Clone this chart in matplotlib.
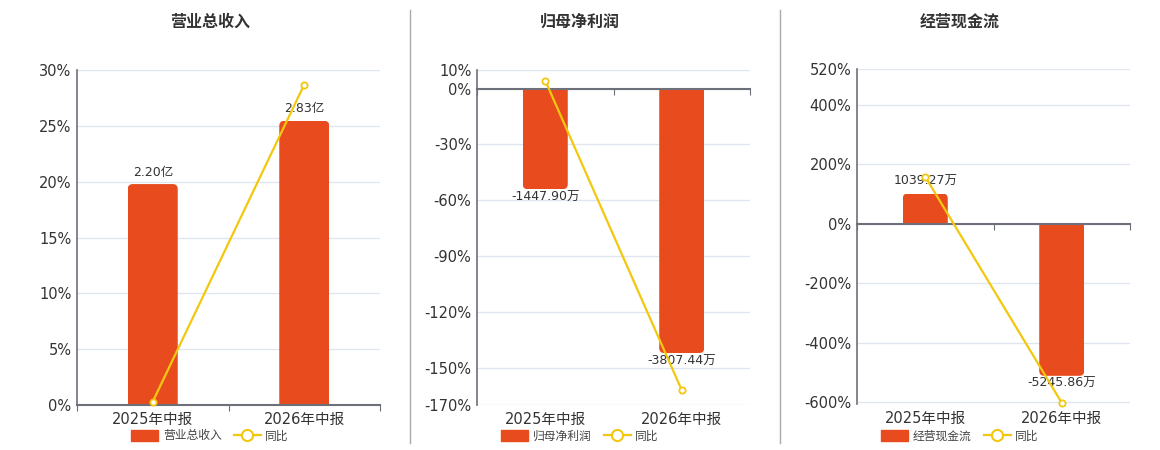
import matplotlib.pyplot as plt
from matplotlib.lines import Line2D
from matplotlib.patches import Patch, FancyBboxPatch

plt.rcParams['font.family'] = ['DejaVu Sans', 'Noto Sans CJK SC']

periods = ["2025年中报", "2026年中报"]

titles = ["营业总收入", "归母净利润", "经营现金流"]
bar_values = [
    [2.20, 2.83],          # 亿
    [-1447.90, -3807.44],  # 万
    [1039.27, -5245.86],   # 万
]
bar_labels = [
    ["2.20亿", "2.83亿"],
    ["-1447.90万", "-3807.44万"],
    ["1039.27万", "-5245.86万"],
]
yoy = [
    [0.3, 28.7],
    [4.3, -162.0],
    [158.0, -602.0],
]

# layout / style
BAR_C = "#E84C1E"
LINE_C = "#F2C80F"
GRID_C = "#E0E6F1"
AXIS_C = "#6E7079"
TXT_C = "#333333"

pct_lims = [(0, 30), (-170, 10), (-606, 520)]
pct_ticks = [
    [0, 5, 10, 15, 20, 25, 30],
    [10, 0, -30, -60, -90, -120, -150, -170],
    [520, 400, 200, 0, -200, -400, -600],
]
# bar units per percent so bars line up with the visible axis
bar_per_pct = [0.1112, 26.8, 10.26]

W, H = 1160, 450
fig = plt.figure(figsize=(W / 100, H / 100), dpi=100)

boxes = [(77, 70, 303, 335), (477, 70, 273, 335), (857, 69, 273, 335)]
centers = [210, 580, 960]

for i in range(3):
    x0, y0, w, h = boxes[i]
    rect = [x0 / W, 1 - (y0 + h) / H, w / W, h / H]
    lo, hi = pct_lims[i]

    # visible percent axis with grid and labels
    ax = fig.add_axes(rect)
    ax.set_ylim(lo, hi)
    ax.set_xlim(-0.5, 1.5)
    ax.set_yticks(pct_ticks[i])
    ax.set_yticklabels([f"{t}%" for t in pct_ticks[i]])
    ax.set_xticks([0, 1])
    ax.set_xticklabels(periods)
    ax.tick_params(axis='y', length=0, labelsize=10.5, colors=TXT_C, pad=4)
    ax.tick_params(axis='x', length=0, labelsize=10.5, colors=TXT_C, pad=5)
    ax.grid(axis='y', color=GRID_C, linewidth=1)
    ax.set_axisbelow(True)
    for s in ["top", "right", "bottom"]:
        ax.spines[s].set_visible(False)
    ax.spines["left"].set_color(AXIS_C)
    ax.spines["left"].set_linewidth(1.2)

    # bars on their own hidden scale
    axb = fig.add_axes(rect)
    k = bar_per_pct[i]
    axb.set_ylim(lo * k, hi * k)
    axb.set_xlim(-0.5, 1.5)
    axb.axis("off")
    bars = axb.bar([0, 1], bar_values[i], width=0.33, facecolor="none",
                   edgecolor="none")
    # rounded outer end: a rounded box that runs past the base, clipped to the bar
    x_per_px = 2.0 / w
    y_per_px = (hi - lo) * k / h
    for b in bars:
        bx, bw, bh = b.get_x(), b.get_width(), b.get_height()
        ext = 12 * y_per_px
        if bh >= 0:
            ystart, hh = -ext, bh + ext
        else:
            ystart, hh = bh, -bh + ext
        rp = FancyBboxPatch(
            (bx, ystart), bw, hh,
            boxstyle=f"round,pad=0,rounding_size={5 * x_per_px}",
            mutation_aspect=y_per_px / x_per_px,
            facecolor=BAR_C, edgecolor="none", zorder=2)
        axb.add_patch(rp)
        rp.set_clip_path(b)
    for b, v, lab in zip(bars, bar_values[i], bar_labels[i]):
        xc = b.get_x() + b.get_width() / 2
        if v >= 0:
            axb.annotate(lab, (xc, v), xytext=(0, 4), textcoords="offset points",
                         ha="center", va="bottom", fontsize=9, color=TXT_C)
        else:
            axb.annotate(lab, (xc, v), xytext=(0, -1), textcoords="offset points",
                         ha="center", va="top", fontsize=9, color=TXT_C)

    # zero axis line + yoy line on top, same scale as visible axis
    axl = fig.add_axes(rect)
    axl.patch.set_visible(False)
    axl.set_ylim(lo, hi)
    axl.set_xlim(-0.5, 1.5)
    axl.set_yticks([])
    for s in ["top", "right", "left"]:
        axl.spines[s].set_visible(False)
    axl.spines["bottom"].set_position(("data", 0))
    axl.spines["bottom"].set_color(AXIS_C)
    axl.spines["bottom"].set_linewidth(1.5)
    axl.set_xticks([-0.5, 0.5, 1.5])
    axl.set_xticklabels([])
    axl.tick_params(axis='x', direction='out', length=4, color=AXIS_C)
    axl.plot([0, 1], yoy[i], color=LINE_C, lw=1.6, marker="o", ms=4.5,
             mfc="white", mec=LINE_C, mew=1.3, zorder=5, clip_on=False)

    cx = centers[i] / W
    fig.text(cx, 1 - 22 / H, titles[i], ha="center", va="center",
             fontsize=11.5, fontweight="bold", color=TXT_C)
    handles = [
        Patch(facecolor=BAR_C, edgecolor=BAR_C, label=titles[i]),
        Line2D([0], [0], color=LINE_C, lw=1.6, marker="o", ms=8, mfc="white",
               mec=LINE_C, mew=1.5, label="同比"),
    ]
    fig.legend(handles=handles, loc="center", bbox_to_anchor=(cx, 1 - 436 / H),
               ncol=2, frameon=False, fontsize=8.5, handlelength=2.3,
               handleheight=1.1, columnspacing=1.0, handletextpad=0.4,
               labelcolor="#444444")

# separators between panels
for xs in [410, 780]:
    fig.add_artist(Line2D([xs / W, xs / W], [1 - 10 / H, 1 - 443 / H],
                          color="#AAAAAA", lw=1))

fig.savefig("out.png", dpi=100)
